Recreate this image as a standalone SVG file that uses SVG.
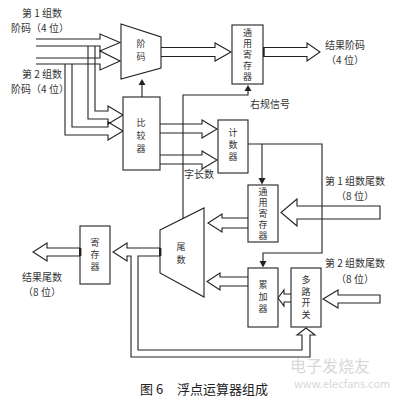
<svg xmlns="http://www.w3.org/2000/svg" width="400" height="401" viewBox="0 0 400 401">
<style>
.b{fill:#fff;stroke:#222;stroke-width:1.1}
.l{fill:none;stroke:#222;stroke-width:1.1}
.f{fill:#222;stroke:none}
text{font-family:"Noto Sans CJK SC","Noto Sans",sans-serif;font-size:10px;fill:#333;text-anchor:middle}
.v{font-size:9px;writing-mode:vertical-rl;letter-spacing:2px}
.cap{font-size:13px;text-anchor:start;fill:#222}
.wm{fill:#d8d8d8;font-size:13px;text-anchor:start}
</style>
<rect width="400" height="401" fill="#fff"/>
<g id="connectors">
  <path class="l" d="M36,39 H100 V34 L120,42.5 L100,51 V46 H36"/>
  <path class="l" d="M36,58 H100 V51 L120,61 L100,70 V64 H36"/>
  <path class="l" d="M88,46 V119 H108 V124 L123,115 L108,106 V111 H95 V46"/>
  <path class="l" d="M65,64 V135 H108 V140 L123,131 L108,122 V127 H72 V64"/>
  <path class="l" d="M161,47.5 H215 V43 L231,52 L215,61 V56.5 H161"/>
  <path class="l" d="M263,47.5 H307 V43 L320,52 L307,61 V56.5 H263"/>
  <rect class="f" x="262.5" y="47.5" width="2.2" height="9"/>
  <path class="l" d="M142,97 V84"/>
  <polygon class="f" points="138.5,85 145.5,85 142,79"/>
  <path class="l" d="M160,124 H202 V120 L217,129 L202,138 V133 H160"/>
  <path class="l" d="M160,155 H202 V151 L217,160 L202,169 V164 H160"/>
  <path class="l" d="M183,218.5 V95 H248 V90"/>
  <polygon class="f" points="244.5,91 251.5,91 248,85"/>
  <path class="l" d="M248,144 H322 V253 H263 V262"/>
  <polygon class="f" points="259.5,261 266.5,261 263,267.5"/>
  <path class="l" d="M262,144 V179"/>
  <polygon class="f" points="258.5,178 265.5,178 262,184.5"/>
  <path class="l" d="M380,206 H297 V199 L281,212.5 L297,226 V219 H380 Z"/>
  <path class="l" d="M248,218 H222 V214 L208,223 L222,232 V228 H248"/>
  <path class="l" d="M248,277 H220 V273 L207,281.5 L220,290 V286 H248"/>
  <path class="l" d="M291,294 H284 V290 L278,298 L284,306 V302 H291"/>
  <path class="l" d="M380,295 H338 V290 L323,299 L338,308 V303 H380 Z"/>
  <path class="l" d="M160,248 H127 V243 L113,252 L127,261 V256 H131 V357 H310 V335 H315 L306,328 L297,335 H302 V350 H138 V256 H160"/>
  <path class="l" d="M80,248 H47 V243 L33,252 L47,261 V256 H80"/>
</g>
<g id="in1-label">
  <text x="42" y="17">第 1 组数</text>
  <text x="40" y="32">阶码（4 位）</text>
</g>
<g id="in2-label">
  <text x="42" y="78">第 2 组数</text>
  <text x="40" y="93">阶码（4 位）</text>
</g>
<g id="jiema">
  <polygon class="b" points="121,24 161,37 161,68 121,79"/>
  <text class="v" x="141" y="52" style="letter-spacing:4px">阶码</text>
</g>
<g id="reg-top">
  <rect class="b" x="232" y="25" width="31" height="59"/>
  <text class="v" x="247.5" y="55.5">通用寄存器</text>
</g>
<g id="out-exp-label">
  <text x="345" y="49">结果阶码</text>
  <text x="345" y="64">（4 位）</text>
</g>
<g id="comparator">
  <rect class="b" x="123" y="97" width="37" height="73"/>
  <text class="v" x="141" y="138" style="letter-spacing:4px">比较器</text>
</g>
<g id="right-norm-label"><text x="270" y="108">右规信号</text></g>
<g id="counter">
  <rect class="b" x="218" y="120" width="30" height="53"/>
  <text class="v" x="233" y="146" style="letter-spacing:3px">计数器</text>
</g>
<g id="wordlen-label"><text x="199" y="178">字长数</text></g>
<g id="reg-mid">
  <rect class="b" x="248" y="185" width="30" height="57"/>
  <text class="v" x="263" y="215">通用寄存器</text>
</g>
<g id="in-man1-label">
  <text x="355" y="185">第 1 组数尾数</text>
  <text x="355" y="200">（8 位）</text>
</g>
<g id="mantissa">
  <polygon class="b" points="160,230 204,208 204,297 160,273"/>
  <rect class="f" x="159" y="248" width="2.4" height="8"/>
  <text class="v" x="181" y="255" style="letter-spacing:4px">尾数</text>
</g>
<g id="reg-out">
  <rect class="b" x="80" y="226" width="30" height="58"/>
  <rect class="f" x="79" y="248" width="2.4" height="8"/>
  <text class="v" x="95" y="256.5" style="letter-spacing:3px">寄存器</text>
</g>
<g id="out-man-label">
  <text x="42" y="281">结果尾数</text>
  <text x="42" y="296">（8 位）</text>
</g>
<g id="in-man2-label">
  <text x="355" y="267">第 2 组数尾数</text>
  <text x="355" y="283">（8 位）</text>
</g>
<g id="accumulator">
  <rect class="b" x="248" y="268" width="30" height="59"/>
  <text class="v" x="263" y="298.5" style="letter-spacing:3px">累加器</text>
</g>
<g id="mux">
  <rect class="b" x="291" y="268" width="30" height="59"/>
  <text class="v" x="306" y="298.5" style="letter-spacing:2.5px">多路开关</text>
</g>
<g id="caption">
  <text class="cap" x="140" y="394">图 6</text>
  <text class="cap" x="177" y="394">浮点运算器组成</text>
</g>
<g id="watermark">
  <text class="wm" x="290" y="372" style="font-size:16px">电子发烧友</text>
  <text class="wm" x="294" y="388" style="font-size:11px">www.elecfans.com</text>
</g>
</svg>
